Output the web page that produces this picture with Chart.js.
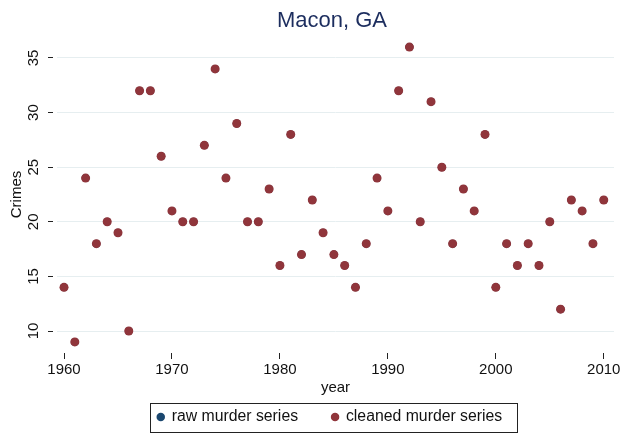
<!DOCTYPE html>
<html>
<head>
<meta charset="utf-8">
<script src="https://cdn.jsdelivr.net/npm/chart.js@4.4.1/dist/chart.umd.min.js"></script>
<style>
  html, body { margin: 0; padding: 0; background: #fff; }
</style>
</head>
<body>
<canvas id="crimes" width="625" height="437"></canvas>
<script>
// data
const years = [1960, 1961, 1962, 1963, 1964, 1965, 1966, 1967, 1968, 1969,
  1970, 1971, 1972, 1973, 1974, 1975, 1976, 1977, 1978, 1979,
  1980, 1981, 1982, 1983, 1984, 1985, 1986, 1987, 1988, 1989,
  1990, 1991, 1992, 1993, 1994, 1995, 1996, 1997, 1998, 1999,
  2000, 2001, 2002, 2003, 2004, 2005, 2006, 2007, 2008, 2009, 2010]
// raw series sits under the cleaned one everywhere
const rawMurders = [14, 9, 24, 18, 20, 19, 10, 32, 32, 26,
  21, 20, 20, 27, 34, 24, 29, 20, 20, 23,
  16, 28, 17, 22, 19, 17, 16, 14, 18, 24,
  21, 32, 36, 20, 31, 25, 18, 23, 21, 28,
  14, 18, 16, 18, 16, 20, 12, 22, 21, 18, 22]
const cleanedMurders = [14, 9, 24, 18, 20, 19, 10, 32, 32, 26,
  21, 20, 20, 27, 34, 24, 29, 20, 20, 23,
  16, 28, 17, 22, 19, 17, 16, 14, 18, 24,
  21, 32, 36, 20, 31, 25, 18, 23, 21, 28,
  14, 18, 16, 18, 16, 20, 12, 22, 21, 18, 22]
const yearTicks = [1960, 1970, 1980, 1990, 2000, 2010]
const crimeTicks = [10, 15, 20, 25, 30, 35]

const FONT = "'Liberation Sans', Arial, sans-serif"

const toPoints = (xs, ys) => xs.map((x, i) => ({ x: x, y: ys[i] }))

// Stata centres title and legend on the plot, not on the canvas
const shiftBoxes = {
  id: 'shiftBoxes',
  afterLayout(chart) {
    if (chart.titleBlock) { chart.titleBlock.left += 23; chart.titleBlock.right += 23 }
    if (chart.legend) { chart.legend.left += 21; chart.legend.right += 21 }
  }
}

// box round the legend, like Stata draws it
const legendFrame = {
  id: 'legendFrame',
  afterDraw(chart) {
    const boxes = chart.legend && chart.legend.legendHitBoxes
    if (!boxes || !boxes.length) return
    const left = Math.min(...boxes.map(b => b.left)) - 8
    const right = Math.max(...boxes.map(b => b.left + b.width)) + 15
    const mid = boxes[0].top + boxes[0].height / 2
    const ctx = chart.ctx
    ctx.save()
    ctx.strokeStyle = '#222'
    ctx.lineWidth = 1
    ctx.strokeRect(Math.round(left) + 0.5, Math.round(mid - 14.5) + 0.5, Math.round(right - left), 29)
    ctx.restore()
  }
}

new Chart(document.getElementById('crimes'), {
  type: 'scatter',
  data: {
    datasets: [
      {
        label: 'raw murder series',
        data: toPoints(years, rawMurders),
        backgroundColor: '#1a476f',
        borderWidth: 0,
        pointRadius: 4,
        order: 1
      },
      {
        label: 'cleaned murder series',
        data: toPoints(years, cleanedMurders),
        backgroundColor: '#90353b',
        borderWidth: 0,
        pointRadius: 4.5,
        order: 0
      }
    ]
  },
  options: {
    responsive: false,
    animation: false,
    layout: { padding: { left: 4, right: 11, top: 0, bottom: 2 } },
    plugins: {
      title: {
        display: true,
        text: 'Macon, GA',
        color: '#1c2d5e',
        font: { family: FONT, size: 22, weight: 'normal' },
        padding: { top: 8, bottom: 5.6 }
      },
      legend: {
        position: 'bottom',
        labels: {
          usePointStyle: true,
          pointStyle: 'circle',
          boxWidth: 6,
          boxHeight: 6,
          padding: 34,
          color: '#111',
          font: { family: FONT, size: 15.8 },
          sort: (a, b) => a.datasetIndex - b.datasetIndex
        }
      },
      tooltip: { enabled: false }
    },
    scales: {
      x: {
        type: 'linear',
        min: 1959.35,
        max: 2010.95,
        afterBuildTicks: s => { s.ticks = yearTicks.map(v => ({ value: v })) },
        afterFit: s => { s.height = 26.2 },
        border: { display: false },
        grid: { drawOnChartArea: false, tickLength: 10, tickColor: '#222', tickBorderDash: [0, 4, 6, 50] },
        ticks: { color: '#111', padding: 2, maxRotation: 0, font: { family: FONT, size: 15 }, callback: v => String(v) },
        title: { display: true, text: 'year', color: '#111', font: { family: FONT, size: 15 }, padding: { top: 0, bottom: -22 } }
      },
      y: {
        min: 8.352,
        max: 36.648,
        afterBuildTicks: s => { s.ticks = crimeTicks.map(v => ({ value: v })) },
        afterFit: s => { s.width = 53 },
        border: { display: false },
        grid: { color: '#e6eef0', lineWidth: 1, tickLength: 9, tickColor: '#222', tickBorderDash: [5, 50] },
        ticks: { color: '#111', padding: 6, minRotation: 90, maxRotation: 90, crossAlign: 'center', font: { family: FONT, size: 15 } },
        title: { display: true, text: 'Crimes', color: '#111', font: { family: FONT, size: 15 }, padding: { top: 4, bottom: 0 } }
      }
    }
  },
  plugins: [shiftBoxes, legendFrame]
})
</script>
</body>
</html>
